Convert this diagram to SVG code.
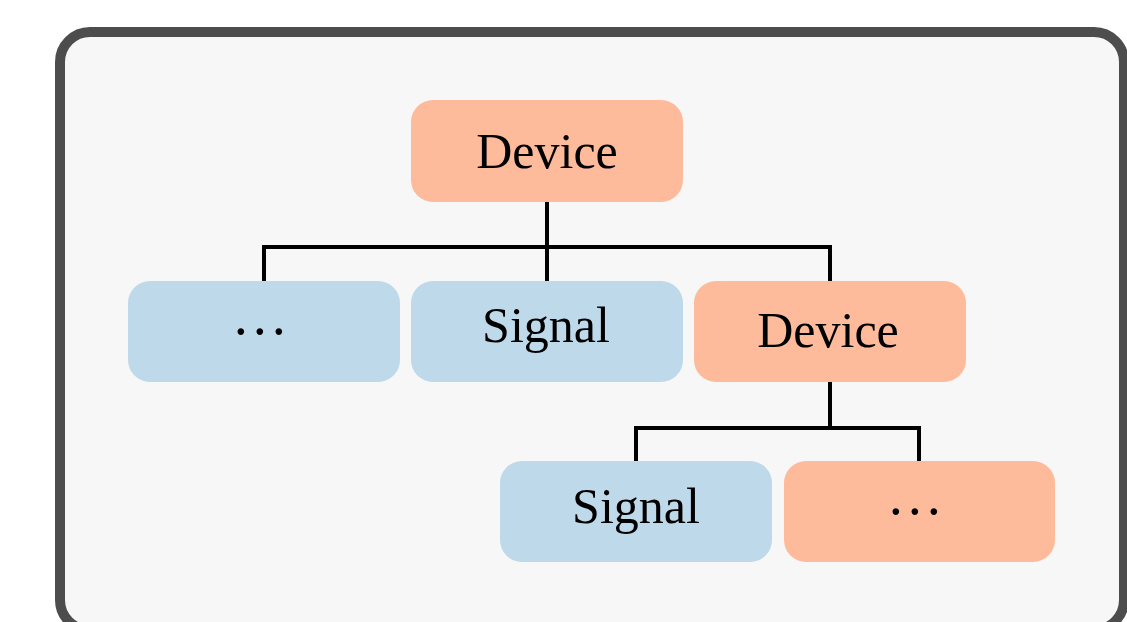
<svg xmlns="http://www.w3.org/2000/svg" width="1127" height="622" viewBox="0 0 1127 622">
  <style>
    .device { fill: #fdbb9b; }
    .signal { fill: #bed9e9; }
    .label { font-family: "Liberation Serif", "Times New Roman", serif; font-size: 50px; fill: #000; text-anchor: middle; }
    .dots { font-family: "Liberation Serif", "Times New Roman", serif; font-size: 56px; fill: #000; text-anchor: middle; letter-spacing: 0.4px; }
    .link { fill: none; stroke: #000; stroke-width: 4; stroke-linejoin: miter; }
  </style>

  <!-- outer frame -->
  <rect id="frame" x="60" y="32" width="1064" height="598" rx="30" ry="30" fill="#f7f7f7" stroke="#4d4d4d" stroke-width="10"/>

  <!-- tree links -->
  <g id="connectors">
    <path class="link" d="M547 202 V247"/>
    <path class="link" d="M264 281 V247 H830 V281"/>
    <path class="link" d="M547 247 V281"/>
    <path class="link" d="M830 382 V428"/>
    <path class="link" d="M636 461 V428 H919 V461"/>
  </g>

  <g id="device-root">
    <rect class="device" x="411" y="100" width="272" height="102" rx="22"/>
    <text class="label" x="547" y="168">Device</text>
  </g>

  <g id="more-left">
    <rect class="signal" x="128" y="281" width="272" height="101" rx="22"/>
    <text class="dots" x="260" y="351">···</text>
  </g>

  <g id="signal-1">
    <rect class="signal" x="411" y="281" width="272" height="101" rx="22"/>
    <text class="label" x="546" y="342">Signal</text>
  </g>

  <g id="device-child">
    <rect class="device" x="694" y="281" width="272" height="101" rx="22"/>
    <text class="label" x="828" y="347">Device</text>
  </g>

  <g id="signal-2">
    <rect class="signal" x="500" y="461" width="272" height="101" rx="22"/>
    <text class="label" x="636" y="523">Signal</text>
  </g>

  <g id="more-right">
    <rect class="device" x="784" y="461" width="271" height="101" rx="22"/>
    <text class="dots" x="915" y="531">···</text>
  </g>
</svg>
